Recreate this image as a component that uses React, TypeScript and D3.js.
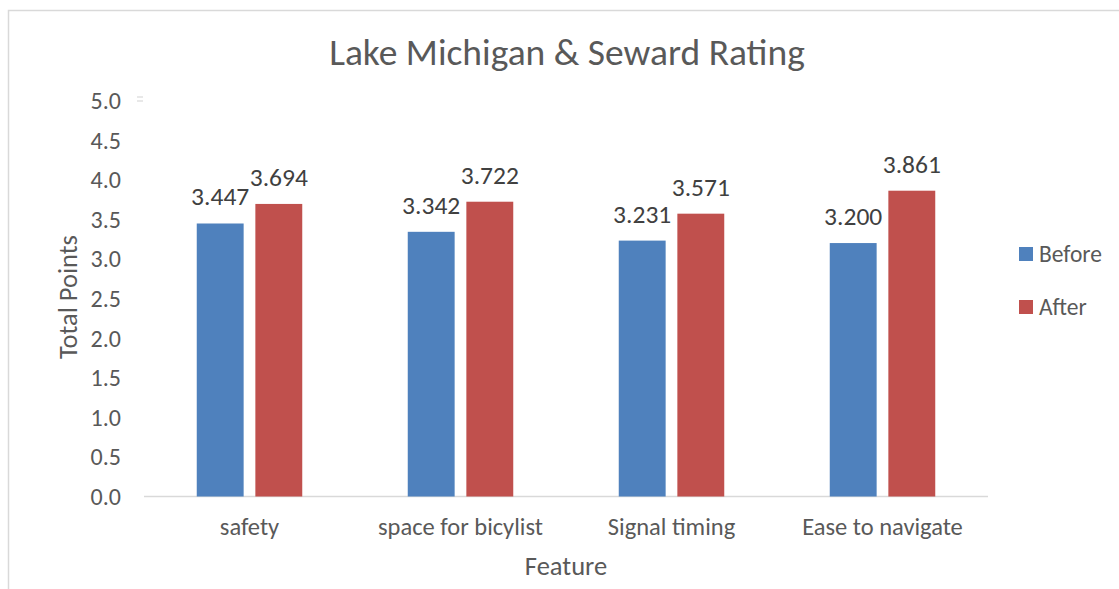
import { useEffect, useRef } from 'react'
import * as d3 from 'd3'

const categories = ['safety', 'space for bicylist', 'Signal timing', 'Ease to navigate']
const seriesNames = ['Before', 'After']
const beforeValues = [3.447, 3.342, 3.231, 3.2]
const afterValues = [3.694, 3.722, 3.571, 3.861]
const yTicks = [0, 0.5, 1, 1.5, 2, 2.5, 3, 3.5, 4, 4.5, 5]
const colors = ['#4F81BD', '#C0504D']

const W = 1119
const H = 589
const FONT = "Calibri, Carlito, 'Open Sans', sans-serif"
const TEXT = '#595959'

export default function App() {
  const svgRef = useRef<SVGSVGElement>(null)

  useEffect(() => {
    if (!svgRef.current) return
    const svg = d3.select(svgRef.current)
    svg.selectAll('*').remove()

    const left = 144
    const right = 988
    const top = 100.5
    const bottom = 496.5

    // outer chart border (only top + left show in the shot)
    svg.append('rect')
      .attr('x', 8.5).attr('y', 10.5)
      .attr('width', W + 20).attr('height', H + 20)
      .attr('fill', 'white')
      .attr('stroke', '#D9D9D9')
      .attr('stroke-width', 1.5)

    const x0 = d3.scaleBand<string>().domain(categories).range([left, right]).padding(0)
    const x1 = d3.scaleBand<string>().domain(seriesNames).range([0, x0.bandwidth()])
      .paddingInner(0.2).paddingOuter(0.9)
    const y = d3.scaleLinear().domain([0, 5]).range([bottom, top])

    // title
    svg.append('text')
      .attr('x', 567).attr('y', 65)
      .attr('text-anchor', 'middle')
      .attr('font-family', FONT).attr('font-size', 37.5)
      .attr('fill', TEXT)
      .text('Lake Michigan & Seward Rating')

    // y tick labels
    svg.append('g').selectAll('text')
      .data(yTicks)
      .join('text')
      .attr('x', 121)
      .attr('y', d => y(d))
      .attr('dy', '0.35em')
      .attr('text-anchor', 'end')
      .attr('font-family', FONT).attr('font-size', 24)
      .attr('fill', TEXT)
      .text(d => d.toFixed(1))

    // small leftover mark near top of axis
    svg.append('g').selectAll('line')
      .data([0, 4])
      .join('line')
      .attr('x1', 137).attr('x2', 143)
      .attr('y1', d => 97 + d).attr('y2', d => 97 + d)
      .attr('stroke', '#D9D9D9').attr('stroke-width', 1.2)

    // baseline
    svg.append('line')
      .attr('x1', left).attr('x2', right)
      .attr('y1', bottom).attr('y2', bottom)
      .attr('stroke', '#D9D9D9').attr('stroke-width', 1.5)

    const rows = categories.map((c, i) => ({ cat: c, vals: [beforeValues[i], afterValues[i]] }))

    const groups = svg.append('g').selectAll('g')
      .data(rows)
      .join('g')
      .attr('transform', d => `translate(${x0(d.cat)},0)`)

    groups.selectAll('rect')
      .data(d => d.vals.map((v, j) => ({ key: seriesNames[j], v, j })))
      .join('rect')
      .attr('x', d => x1(d.key)!)
      .attr('y', d => y(d.v))
      .attr('width', x1.bandwidth())
      .attr('height', d => bottom - y(d.v))
      .attr('fill', d => colors[d.j])

    groups.selectAll('text.lbl')
      .data(d => d.vals.map((v, j) => ({ key: seriesNames[j], v, j })))
      .join('text')
      .attr('class', 'lbl')
      .attr('x', d => x1(d.key)! + x1.bandwidth() / 2)
      .attr('y', d => y(d.v) - 18)
      .attr('text-anchor', 'middle')
      .attr('font-family', FONT).attr('font-size', 25.5)
      .attr('fill', '#404040')
      .text(d => d.v.toFixed(3))

    // category labels
    svg.append('g').selectAll('text')
      .data(categories)
      .join('text')
      .attr('x', d => x0(d)! + x0.bandwidth() / 2)
      .attr('y', 535)
      .attr('text-anchor', 'middle')
      .attr('font-family', FONT).attr('font-size', 24.5)
      .attr('fill', TEXT)
      .text(d => d)

    // axis titles
    svg.append('text')
      .attr('x', 566).attr('y', 575)
      .attr('text-anchor', 'middle')
      .attr('font-family', FONT).attr('font-size', 26.5)
      .attr('fill', TEXT)
      .text('Feature')

    svg.append('text')
      .attr('transform', 'translate(77,297) rotate(-90)')
      .attr('text-anchor', 'middle')
      .attr('font-family', FONT).attr('font-size', 26.5)
      .attr('fill', TEXT)
      .text('Total Points')

    // legend
    const legend = svg.append('g').selectAll('g')
      .data(seriesNames)
      .join('g')
      .attr('transform', (d, i) => `translate(1019,${247 + i * 53})`)

    legend.append('rect')
      .attr('width', 14).attr('height', 14)
      .attr('fill', (d, i) => colors[i])

    legend.append('text')
      .attr('x', 20).attr('y', 7)
      .attr('dy', '0.35em')
      .attr('font-family', FONT).attr('font-size', 23.5)
      .attr('fill', TEXT)
      .text(d => d)
  }, [])

  return (
    <svg
      ref={svgRef}
      width={W}
      height={H}
      style={{ position: 'absolute', left: 0, top: 0, display: 'block', background: 'white' }}
    />
  )
}
